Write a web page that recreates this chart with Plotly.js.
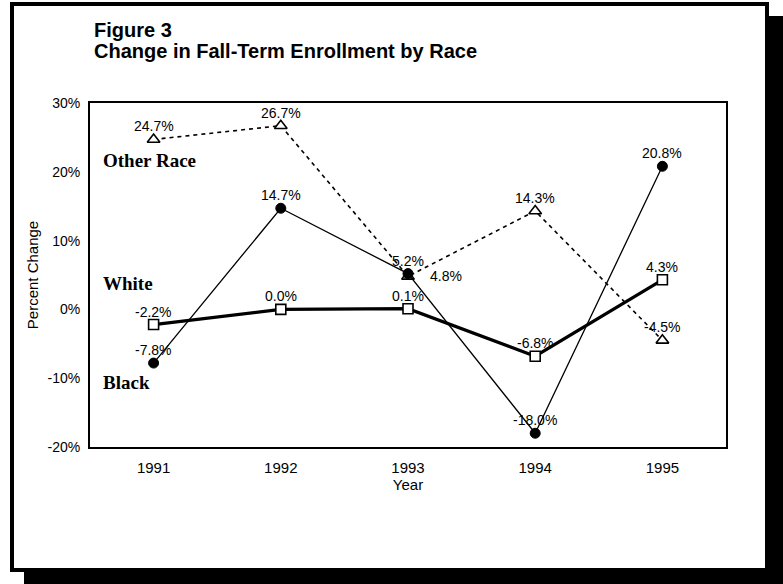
<!DOCTYPE html>
<html>
<head>
<meta charset="utf-8">
<script src="https://cdn.plot.ly/plotly-3.0.1.min.js"></script>
<style>
html,body{margin:0;padding:0;background:#fff;}
#chart{width:783px;height:584px;}
</style>
</head>
<body>
<div id="chart"></div>
<script>
// ---- data ----
const years = ["1991", "1992", "1993", "1994", "1995"];
const blackValues = [-7.8, 14.7, 5.2, -18.0, 20.8];
const whiteValues = [-2.2, 0.0, 0.1, -6.8, 4.3];
const otherValues = [24.7, 26.7, 4.8, 14.3, -4.5];
const seriesNames = ["Black", "White", "Other Race"];
const yTickVals = [-20, -10, 0, 10, 20, 30];
const yTickText = ["-20%", "-10%", "0%", "10%", "20%", "30%"];

// ---- layout helpers (pixel -> paper) ----
const W = 783, H = 584;
const PL = 90, PR = 726, PT = 103, PB = 447;
const X = px => (px - PL) / (PR - PL);
const Y = py => (PB - py) / (PB - PT);

const fmt = v => v.toFixed(1) + "%";
const sans = "Arial, 'Liberation Sans', sans-serif";
const labelFont = {family: sans, size: 14, color: "#000"};

const traces = [
  {
    name: seriesNames[2], x: years, y: otherValues,
    mode: "lines+markers",
    line: {color: "#000", width: 1.6, dash: "4px,4px"},
    marker: {symbol: "triangle-up", size: 11, color: "#fff", line: {color: "#000", width: 1.6}},
    cliponaxis: false
  },
  {
    name: seriesNames[1], x: years, y: whiteValues,
    mode: "lines+markers",
    line: {color: "#000", width: 3.2},
    marker: {symbol: "square", size: 10, color: "#fff", line: {color: "#000", width: 1.6}},
    cliponaxis: false
  },
  {
    name: seriesNames[0], x: years, y: blackValues,
    mode: "lines+markers",
    line: {color: "#000", width: 1.3},
    marker: {symbol: "circle", size: 10, color: "#000", line: {color: "#000", width: 1}},
    cliponaxis: false
  }
];

// value labels built from the data arrays (x = category index)
const valueLabels = [];
function addLabels(values, special) {
  values.forEach((v, i) => {
    const s = special && special[i];
    valueLabels.push({
      x: i, y: v, xref: "x", yref: "y",
      text: fmt(v), showarrow: false, font: labelFont,
      xanchor: s ? "left" : "center", yanchor: "middle",
      xshift: s ? 20 : 0, yshift: s ? 0 : 13
    });
  });
}
addLabels(otherValues, [false, false, true, false, false]);
addLabels(whiteValues);
addLabels(blackValues);

const serifFont = {family: "'Liberation Serif', 'Times New Roman', serif", size: 19, color: "#000", weight: "bold"};
const titleFont = {family: sans, size: 20, color: "#000", weight: "bold"};

const layout = {
  width: W, height: H,
  margin: {l: PL, r: W - PR, t: PT, b: H - PB, pad: 0},
  paper_bgcolor: "#fff",
  plot_bgcolor: "rgba(0,0,0,0)",
  showlegend: false,
  font: {family: sans, color: "#000"},
  xaxis: {
    type: "category",
    range: [-0.5, 4.5],
    showline: true, linecolor: "#000", linewidth: 2, mirror: true,
    showgrid: false, zeroline: false, ticks: "",
    ticklabelstandoff: 6,
    tickfont: {size: 15, color: "#000"},
    title: {text: "Year", font: {size: 15, color: "#000"}, standoff: 3}
  },
  yaxis: {
    range: [-20, 30],
    tickvals: yTickVals,
    ticktext: yTickText,
    showline: true, linecolor: "#000", linewidth: 2, mirror: true,
    showgrid: false, zeroline: false, ticks: "",
    ticklabelstandoff: 5,
    tickfont: {size: 14, color: "#000"},
    title: {text: "Percent Change", font: {size: 15, color: "#000"}, standoff: 5}
  },
  shapes: [
    {type: "rect", xref: "paper", yref: "paper", layer: "below",
     x0: X(24), x1: X(783), y0: Y(16), y1: Y(584),
     fillcolor: "#000", line: {width: 0}},
    {type: "rect", xref: "paper", yref: "paper", layer: "below",
     x0: X(12), x1: X(767), y0: Y(4), y1: Y(570),
     fillcolor: "#fff", line: {color: "#000", width: 4}}
  ],
  annotations: [
    {text: "Figure 3", xref: "paper", yref: "paper", x: X(92), y: Y(30),
     xanchor: "left", yanchor: "middle", showarrow: false, font: titleFont},
    {text: "Change in Fall-Term Enrollment by Race", xref: "paper", yref: "paper", x: X(92), y: Y(51),
     xanchor: "left", yanchor: "middle", showarrow: false, font: titleFont},
    {text: "Other Race", xref: "paper", yref: "paper", x: X(101), y: Y(160),
     xanchor: "left", yanchor: "middle", showarrow: false, font: serifFont},
    {text: "White", xref: "paper", yref: "paper", x: X(101), y: Y(283),
     xanchor: "left", yanchor: "middle", showarrow: false, font: serifFont},
    {text: "Black", xref: "paper", yref: "paper", x: X(101), y: Y(382),
     xanchor: "left", yanchor: "middle", showarrow: false, font: serifFont}
  ].concat(valueLabels)
};

Plotly.newPlot("chart", traces, layout, {staticPlot: true, displayModeBar: false});
</script>
</body>
</html>
